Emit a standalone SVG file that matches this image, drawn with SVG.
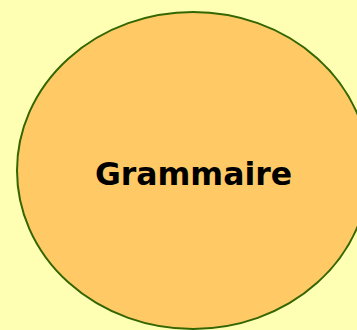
<svg xmlns="http://www.w3.org/2000/svg" width="357" height="330" viewBox="0 0 357 330">
<style>
.node-shape{fill:#FFCA66;stroke:#336600;stroke-width:2}
.label{font-family:"DejaVu Sans","Liberation Sans",sans-serif;font-weight:bold;font-size:31.5px;fill:#000;text-anchor:middle}
</style>
<rect x="0" y="0" width="357" height="330" fill="#FFFFB3"/>
<g id="connectors"></g>
<g id="grammaire">
<ellipse class="node-shape" cx="193" cy="170.5" rx="176" ry="158.5"/>
<text class="label" x="193.5" y="185">Grammaire</text>
</g>
</svg>
